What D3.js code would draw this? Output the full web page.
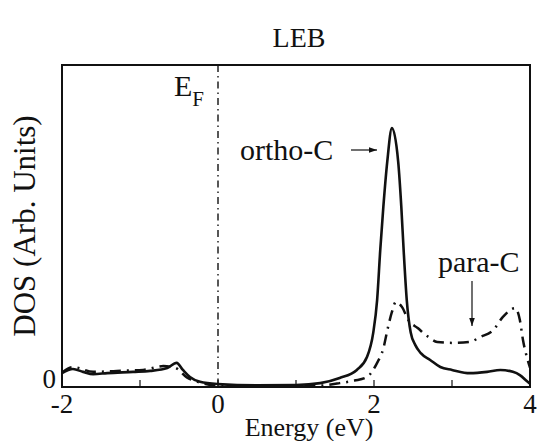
<!DOCTYPE html>
<html>
<head>
<meta charset="utf-8">
<script src="https://cdn.jsdelivr.net/npm/d3@7"></script>
<style>
  body { margin: 0; background: #fff; }
</style>
</head>
<body>
<div id="chart"></div>
<script>
var w = 538;
var h = 441;
var serif = "'Liberation Serif', 'Times New Roman', serif";

// ortho-C (solid line), energy in eV
var orthoEnergy = [-2, -1.86, -1.73, -1.6, -1.42, -1.09, -0.87, -0.65, -0.53, -0.45, -0.36, -0.23, 0, 0.5, 1.0, 1.31, 1.56, 1.78, 1.91, 1.99, 2.04, 2.08, 2.12, 2.17, 2.23, 2.31, 2.35, 2.38, 2.42, 2.47, 2.53, 2.6, 2.72, 2.85, 3.0, 3.23, 3.45, 3.62, 3.78, 3.87, 3.97, 4.0];
var orthoDos = [0.043, 0.056, 0.047, 0.04, 0.043, 0.047, 0.05, 0.059, 0.075, 0.053, 0.031, 0.016, 0.009, 0.005, 0.006, 0.012, 0.028, 0.053, 0.093, 0.168, 0.27, 0.425, 0.56, 0.70, 0.804, 0.70, 0.56, 0.425, 0.27, 0.17, 0.13, 0.105, 0.084, 0.062, 0.053, 0.043, 0.047, 0.053, 0.047, 0.037, 0.016, 0.01];

// para-C (dash-dot line)
var paraEnergy = [-2, -1.86, -1.6, -1.3, -0.96, -0.7, -0.55, -0.4, -0.2, 0, 0.5, 1.0, 1.3, 1.56, 1.75, 1.91, 2.04, 2.12, 2.18, 2.23, 2.28, 2.36, 2.44, 2.56, 2.7, 2.81, 3.01, 3.23, 3.36, 3.53, 3.65, 3.81, 3.87, 3.91, 3.97, 4.0];
var paraDos = [0.045, 0.062, 0.047, 0.05, 0.053, 0.065, 0.06, 0.03, 0.012, 0.004, 0.002, 0.002, 0.004, 0.012, 0.02, 0.031, 0.075, 0.12, 0.186, 0.233, 0.264, 0.248, 0.208, 0.183, 0.155, 0.14, 0.137, 0.14, 0.155, 0.177, 0.217, 0.245, 0.208, 0.146, 0.084, 0.06];

var xTicks = [-2, -1, 0, 1, 2, 3, 4];
var xTickLabels = [-2, 0, 2, 4];
var fermiEnergy = 0;

var margin = {left: 62, right: 8, top: 65, bottom: 54};

var x = d3.scaleLinear().domain([-2, 4]).range([margin.left, w - margin.right]);
var y = d3.scaleLinear().domain([0, 1]).range([h - margin.bottom, margin.top]);

var svg = d3.select("#chart")
  .append("svg")
  .attr("width", w)
  .attr("height", h);

// helper: every text gets the serif face on its own style
function addText(sel, size) {
  return sel.append("text")
    .style("font-family", serif)
    .style("font-size", size + "px")
    .style("fill", "#111");
}

// clip so curves stay inside the frame
svg.append("clipPath").attr("id", "plot")
  .append("rect")
  .attr("x", x(-2)).attr("y", y(1))
  .attr("width", x(4) - x(-2)).attr("height", y(0) - y(1));

var line = d3.line()
  .x(d => x(d[0]))
  .y(d => y(d[1]))
  .curve(d3.curveMonotoneX);

// Fermi level
svg.append("line")
  .attr("x1", x(fermiEnergy)).attr("x2", x(fermiEnergy))
  .attr("y1", y(1)).attr("y2", y(0))
  .attr("stroke", "#111")
  .attr("stroke-width", 1.4)
  .attr("stroke-dasharray", "7,4,1.5,4");

svg.append("path")
  .datum(d3.zip(paraEnergy, paraDos))
  .attr("d", line)
  .attr("clip-path", "url(#plot)")
  .style("fill", "none")
  .attr("stroke", "#111")
  .attr("stroke-width", 2.5)
  .attr("stroke-dasharray", "11,6,2,6");

svg.append("path")
  .datum(d3.zip(orthoEnergy, orthoDos))
  .attr("d", line)
  .attr("clip-path", "url(#plot)")
  .style("fill", "none")
  .attr("stroke", "#111")
  .attr("stroke-width", 2.6);

// frame
svg.append("rect")
  .attr("x", x(-2)).attr("y", y(1))
  .attr("width", x(4) - x(-2)).attr("height", y(0) - y(1))
  .style("fill", "none")
  .attr("stroke", "#111")
  .attr("stroke-width", 2);

// inward ticks on the bottom axis
svg.selectAll(".tick")
  .data(xTicks)
  .enter()
  .append("line")
  .attr("class", "tick")
  .attr("x1", d => x(d)).attr("x2", d => x(d))
  .attr("y1", y(0)).attr("y2", y(0) - 7)
  .attr("stroke", "#111")
  .attr("stroke-width", 1.2);

xTickLabels.forEach(function (d) {
  addText(svg, 27)
    .attr("x", x(d))
    .attr("y", y(0) + 26)
    .attr("text-anchor", "middle")
    .text(d);
});

addText(svg, 27)
  .attr("x", x(-2) - 6)
  .attr("y", y(0) + 1)
  .attr("text-anchor", "end")
  .text("0");

// axis titles
addText(svg, 26)
  .attr("x", 309)
  .attr("y", 436)
  .attr("text-anchor", "middle")
  .text("Energy (eV)");

addText(svg, 31)
  .attr("transform", "translate(35,226) rotate(-90)")
  .attr("text-anchor", "middle")
  .text("DOS (Arb. Units)");

addText(svg, 28)
  .attr("x", 299)
  .attr("y", 47)
  .attr("text-anchor", "middle")
  .text("LEB");

// E_F label
var ef = addText(svg, 30)
  .attr("x", 174)
  .attr("y", 96);
ef.append("tspan").text("E");
ef.append("tspan").style("font-size", "21px").attr("dy", 10).text("F");

// annotations
svg.append("defs").append("marker")
  .attr("id", "head")
  .attr("viewBox", "0 0 10 10")
  .attr("refX", 10).attr("refY", 5)
  .attr("markerWidth", 8).attr("markerHeight", 8)
  .attr("markerUnits", "userSpaceOnUse")
  .attr("orient", "auto")
  .append("path")
  .attr("d", "M0,1.5 L10,5 L0,8.5 Z")
  .style("fill", "#111");

addText(svg, 30)
  .attr("x", 240)
  .attr("y", 160)
  .text("ortho-C");

svg.append("line")
  .attr("x1", 351).attr("x2", 377)
  .attr("y1", 150).attr("y2", 150)
  .attr("stroke", "#111")
  .attr("stroke-width", 1.2)
  .attr("marker-end", "url(#head)");

addText(svg, 30)
  .attr("x", 438)
  .attr("y", 272)
  .text("para-C");

svg.append("line")
  .attr("x1", 472).attr("x2", 472)
  .attr("y1", 281).attr("y2", 326)
  .attr("stroke", "#111")
  .attr("stroke-width", 1.2)
  .attr("marker-end", "url(#head)");
</script>
</body>
</html>
